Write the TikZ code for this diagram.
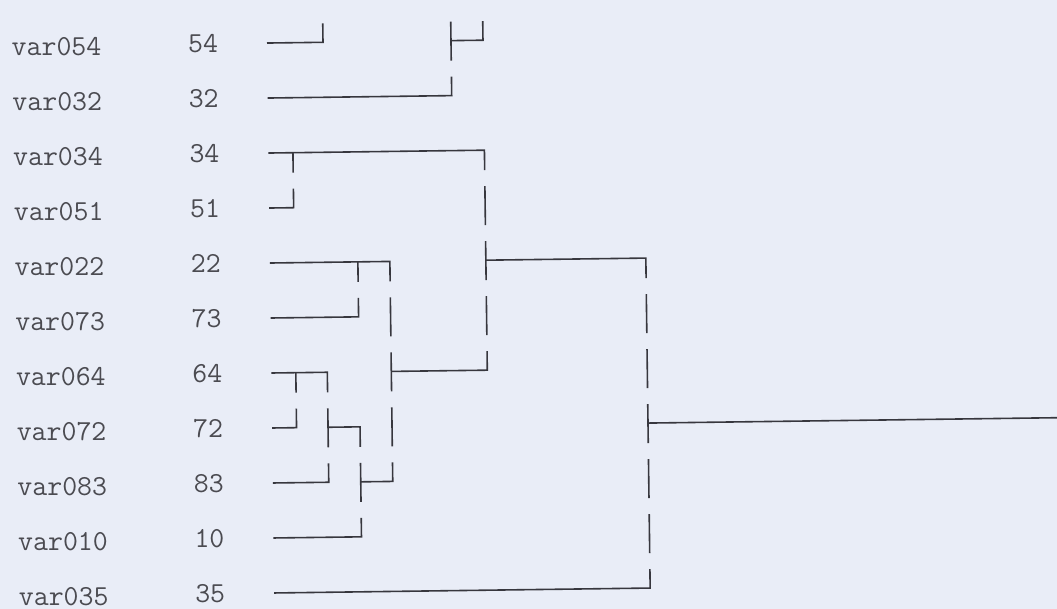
\documentclass[tikz,border=0pt]{standalone}
\usepackage{tikz}
\definecolor{papercolor}{RGB}{233,237,247}
\definecolor{inkcolor}{RGB}{55,55,62}
\tikzset{dendro/.style={draw=inkcolor,line width=1.6pt},
  lbl/.style={font=\ttfamily\fontsize{29}{32}\selectfont,text=inkcolor!90,inner sep=0pt}}

\begin{document}
\begin{tikzpicture}[x=1pt,y=-55pt]
\fill[papercolor] (0,-0.7818) rectangle (1057,10.2909);
\clip (0,-0.7818) rectangle (1057,10.2909);
\begin{scope}[rotate around={0.75:(270,0)}]
% row labels and case numbers
\foreach \v/\n [count=\i from 0] in {054/54,032/32,034/34,051/51,022/22,073/73,064/64,072/72,083/83,010/10,035/35}{
  \node[lbl,anchor=west](var\v) at (11.5,\i) {var\v};
  \node[lbl](num\v) at (203,\i) {\n};
}
% leaves with their corners
\draw[dendro] (267,0)--(323,0)--(323,-0.345);
\draw[dendro] (451,0)--(483,0)--(483,-0.345);
\draw[dendro] (267,1)--(451,1)--(451,0.655);
\draw[dendro] (267,2)--(483,2)--(483,2.364); \draw[dendro] (291.5,2)--(291.5,2.364);
\draw[dendro] (267,3)--(291.5,3)--(291.5,2.655);
\draw[dendro] (267,4)--(387,4)--(387,4.364); \draw[dendro] (355,4)--(355,4.364);
\draw[dendro] (483,4)--(643,4)--(643,4.364);
\draw[dendro] (267,5)--(355,5)--(355,4.655);
\draw[dendro] (267,6)--(323,6)--(323,6.364); \draw[dendro] (291.5,6)--(291.5,6.364);
\draw[dendro] (387,6)--(483,6)--(483,5.655);
\draw[dendro] (267,7)--(291.5,7)--(291.5,6.655);
\draw[dendro] (323,7)--(355,7)--(355,7.364);
\draw[dendro] (643,7)--(1075,7);
\draw[dendro] (267,8)--(323,8)--(323,7.655);
\draw[dendro] (355,8)--(387,8)--(387,7.655);
\draw[dendro] (267,9)--(355,9)--(355,8.655);
\draw[dendro] (267,10)--(643,10)--(643,9.655);
% full bars
\foreach \c/\r in {451/0,483/3,483/4,483/5,387/5,387/6,387/7,643/5,643/6,643/7,643/8,643/9,323/7,355/8}
  \draw[dendro] (\c,\r-0.345)--(\c,\r+0.364);
\end{scope}
\end{tikzpicture}
\end{document}
